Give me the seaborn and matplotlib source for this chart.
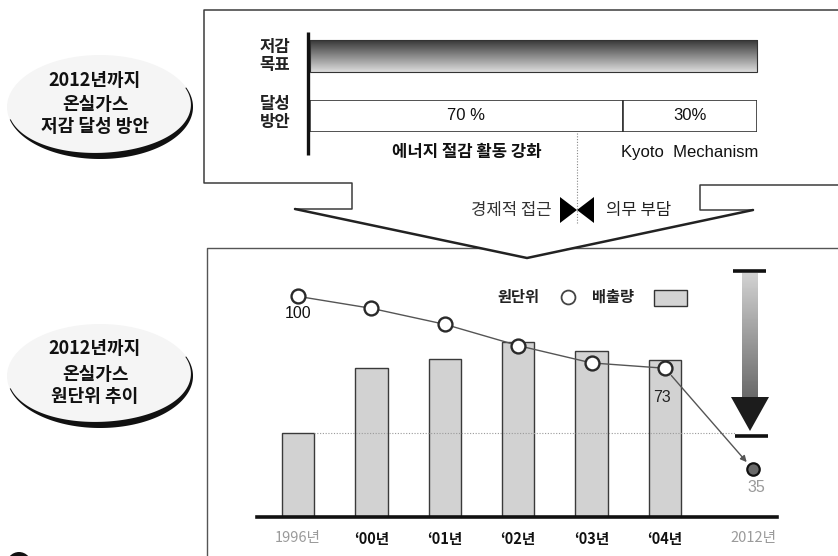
import numpy as np
import pandas as pd
import matplotlib
matplotlib.use("Agg")
import matplotlib.pyplot as plt
from matplotlib.patches import Polygon, Rectangle, Ellipse
import seaborn as sns

# ---------------- data ----------------
years = ["1996년", "‘00년", "‘01년", "‘02년", "‘03년", "‘04년"]
target_year = "2012년"
emissions = [84, 149, 158, 175, 166, 157]          # 배출량 (relative level)
intensity = [100, 95.5, 89.5, 81.5, 75, 73]        # 원단위 (1996 = 100)
intensity_target = 35                              # 2012 원단위 목표
plan_shares = [70, 30]
plan_values = ["70 %", "30%"]
plan_names = ["에너지 절감 활동 강화", "Kyoto  Mechanism"]

# ---------------- style ----------------
sns.set_theme(style="white")
plt.rcParams["font.family"] = ["Noto Sans CJK KR", "DejaVu Sans"]
LATIN = ["Liberation Sans", "Noto Sans CJK KR"]

W, H = 838, 556
fig = plt.figure(figsize=(W / 100, H / 100), dpi=100)


def rect(x0, y0, x1, y1):
    """figure rectangle from pixel box (y measured from top)"""
    return [x0 / W, 1 - y1 / H, (x1 - x0) / W, (y1 - y0) / H]


# overlay in pixel coordinates for frames and annotations
ov = fig.add_axes([0, 0, 1, 1], zorder=0)
ov.set_axis_off()

EDGE = "#3c3c3c"

# upper frame with the callout pointing to the lower frame
ov.plot([838, 204, 204, 352, 352, 295], [10, 10, 183, 183, 209, 209], color=EDGE, lw=1.1)
funnel = [(295, 209), (527, 258), (753, 210)]
ov.add_patch(Polygon([(295 + (527 - 295) * 0.78, 247), (527, 258),
                      (753 - (753 - 527) * 0.79, 247)],
                     closed=True, fc="white", ec="none", zorder=2))
ov.plot([p[0] for p in funnel], [p[1] for p in funnel], color="#222", lw=1.8, zorder=3,
        solid_joinstyle="miter")
ov.plot([753, 700, 700, 838], [210, 210, 185, 185], color=EDGE, lw=1.1)

# lower frame
ov.plot([207, 207, 838], [556, 248, 248], color="#555", lw=1.0, zorder=1)

# thick vertical rule of the upper panel
ov.plot([308, 308], [32, 155], color="#111", lw=2.4, solid_capstyle="butt")

# target bar with a dark-to-light vertical gradient
grad = np.linspace(0.22, 0.86, 64)[:, None]
ov.imshow(grad, cmap="gray", vmin=0, vmax=1, extent=(310, 757, 72, 40),
          aspect="auto", interpolation="bilinear")
ov.add_patch(Rectangle((310, 40), 447, 32, fc="none", ec="#333", lw=0.8))

# row labels of the upper panel
ov.text(275, 56, "저감\n목표", ha="center", va="center", fontsize=12,
        fontweight="bold", linespacing=0.95, color="#222")
ov.text(275, 113, "달성\n방안", ha="center", va="center", fontsize=12,
        fontweight="bold", linespacing=0.95, color="#222")

# separator and bow-tie between the two approaches
ov.plot([577, 577], [133, 224], color="#888", lw=0.8, ls=(0, (1, 1.5)), zorder=4)
ov.add_patch(Polygon([(560, 197), (560, 223), (577, 210)], fc="black", ec="none", zorder=5))
ov.add_patch(Polygon([(594, 197), (594, 223), (577, 210)], fc="black", ec="none", zorder=5))
ov.text(552, 210, "경제적 접근", ha="right", va="center", fontsize=12, color="#333", zorder=5)
ov.text(606, 210, "의무 부담", ha="left", va="center", fontsize=12, color="#222", zorder=5)


# oval badges on the left
def badge(cx, cy, lines):
    a, b = 93, 52
    ov.add_patch(Ellipse((cx, cy), 2 * a, 2 * b, fc="#f5f5f5", ec="none", zorder=1))
    th = np.linspace(np.radians(-22), np.radians(166), 120)
    s = (th - th[0]) / (th[-1] - th[0])
    t = 1.0 + 5.5 * np.sin(np.pi * s) ** 1.5
    outer = np.c_[cx + a * np.cos(th), cy + b * np.sin(th)]
    inner = np.c_[cx + (a - t) * np.cos(th), cy + (b - t) * np.sin(th)]
    ov.add_patch(Polygon(np.r_[outer, inner[::-1]], closed=True, fc="#111", ec="none", zorder=2))
    for dy, txt in zip((-27, -2, 20), lines):
        ov.text(cx - 5, cy + dy, txt, ha="center", va="center", fontsize=13,
                fontweight="bold", color="#111", zorder=3)


badge(100, 107, ["2012년까지", "온실가스", "저감 달성 방안"])
badge(100, 376, ["2012년까지", "온실가스", "원단위 추이"])
ov.add_patch(Ellipse((19, 566), 26, 28, fc="#111", ec="none"))

# legend of the trend chart
ov.text(497, 297, "원단위", ha="left", va="center", fontsize=11, fontweight="bold", color="#222")
ov.plot([568], [297], marker="o", ms=10, mfc="white", mec="#444", mew=1.3)
ov.text(592, 297, "배출량", ha="left", va="center", fontsize=11, fontweight="bold", color="#222")
ov.add_patch(Rectangle((654, 290), 33, 16, fc="#d4d4d4", ec="#333", lw=1))

# large reduction arrow toward the 2012 level
ov.plot([733, 766], [271, 271], color="#111", lw=2.6, solid_capstyle="butt")
shaft = np.linspace(0.82, 0.42, 64)[:, None]
ov.imshow(shaft, cmap="gray", vmin=0, vmax=1, extent=(742, 758, 397, 273),
          aspect="auto", interpolation="bilinear")
ov.add_patch(Polygon([(731, 397), (769, 397), (750, 431)], fc="#1c1c1c", ec="none"))
ov.plot([735, 768], [436, 436], color="#111", lw=2.6, solid_capstyle="butt")

ov.set_xlim(0, W)
ov.set_ylim(H, 0)

# ---------------- achievement split bar ----------------
axb = fig.add_axes(rect(310, 100, 757, 132), zorder=2)
axb.patch.set_alpha(0)
left = 0
for share, val, name in zip(plan_shares, plan_values, plan_names):
    axb.barh(0, share, left=left, height=1.0, color="white", edgecolor="#333", linewidth=1.2)
    mid = left + share / 2
    axb.text(mid, 0, val, ha="center", va="center", fontsize=12, family=LATIN, color="#111")
    if name.startswith("Kyoto"):
        axb.text(mid, -1.13, name, ha="center", va="center", fontsize=12, color="#111",
                 family=LATIN, clip_on=False)
    else:
        axb.text(mid, -1.13, name, ha="center", va="center", fontsize=12, color="#111",
                 fontweight="bold", clip_on=False)
    left += share
axb.set_xlim(0, sum(plan_shares))
axb.set_ylim(-0.5, 0.5)
axb.set_axis_off()

# ---------------- emissions / intensity chart ----------------
pos = np.arange(len(years))
pos_target = len(years) + 0.2
df = pd.DataFrame({"pos": pos, "year": years, "emissions": emissions, "intensity": intensity})

ax = fig.add_axes(rect(257, 270, 777, 517), zorder=1)
ax.patch.set_alpha(0)
sns.barplot(data=df, x="pos", y="emissions", native_scale=True, width=0.44,
            color="#d2d2d2", saturation=1, edgecolor="#3a3a3a", linewidth=1, ax=ax)
ax.hlines(emissions[0], 0.22, 5.95, colors="#9a9a9a", linestyles=(0, (1, 1.5)), lw=0.8, zorder=4)
ax.set_xlim(-0.559, 6.526)
ax.set_ylim(0, 247)
ax.set_xlabel("")
ax.set_ylabel("")
ax.set_yticks([])
ax.set_xticks(list(pos) + [pos_target])
ax.set_xticklabels(years + [target_year])
for i, lab in enumerate(ax.get_xticklabels()):
    if i == 0 or i == len(years):
        lab.set_color("#9a9a9a")
        lab.set_fontweight("normal")
    else:
        lab.set_color("#111")
        lab.set_fontweight("bold")
    lab.set_fontsize(10.5)
ax.tick_params(axis="x", length=0, pad=10)
for side in ("top", "right", "left"):
    ax.spines[side].set_visible(False)
ax.spines["bottom"].set_linewidth(2.6)
ax.spines["bottom"].set_color("#111")

ax2 = ax.twinx()
ax2.set_zorder(ax.get_zorder() + 1)
sns.lineplot(data=df, x="pos", y="intensity", ax=ax2, color="#555", lw=1.0,
             marker="o", markersize=10, markerfacecolor="white",
             markeredgecolor="#2a2a2a", markeredgewidth=1.7)
ax2.annotate("", xy=(pos_target, intensity_target), xytext=(pos[-1], intensity[-1]),
             arrowprops=dict(arrowstyle="-|>", color="#555", lw=1.0, shrinkA=7,
                             shrinkB=7, mutation_scale=9))
ax2.scatter([pos_target], [intensity_target], s=80, color="#6a6a6a",
            edgecolor="#111", linewidth=1.6, zorder=5)
ax2.annotate(f"{intensity[0]:g}", (pos[0], intensity[0]), xytext=(0, -12.5),
             textcoords="offset points", ha="center", va="center", fontsize=11.5,
             family=LATIN, color="#111")
ax2.annotate(f"{intensity[-1]:g}", (pos[-1], intensity[-1]), xytext=(-2, -21),
             textcoords="offset points", ha="center", va="center", fontsize=11.5,
             family=LATIN, color="#222")
ax2.annotate(f"{intensity_target:g}", (pos_target, intensity_target), xytext=(2, -13),
             textcoords="offset points", ha="center", va="center", fontsize=11.5,
             family=LATIN, color="#9a9a9a")
ax2.set_ylim(17.13, 109.9)
ax2.set_ylabel("")
ax2.set_yticks([])
for side in ("top", "right", "left", "bottom"):
    ax2.spines[side].set_visible(False)

fig.savefig("out.png", dpi=100, facecolor="white")
